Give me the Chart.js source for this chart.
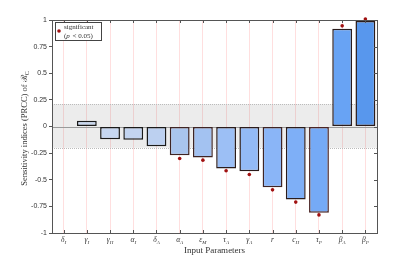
<!DOCTYPE html>
<html><head><meta charset="utf-8">
<script src="https://cdn.jsdelivr.net/npm/chart.js@4/dist/chart.umd.min.js"></script>
<style>html,body{margin:0;background:#fff}#wrap{width:411px;height:258px}</style>
</head><body><div id="wrap"><canvas id="prccChart" width="411" height="258"></canvas></div>
<script>
/* DATA */
const params=["δ_I","γ_I","γ_H","α_I","δ_A","α_A","ε_M","τ_A","γ_A","r","c_H","τ_P","β_A","β_P"];
const prcc=[0.005,0.055,-0.12,-0.125,-0.185,-0.27,-0.29,-0.395,-0.42,-0.57,-0.685,-0.81,0.917,0.99];
const sigMarks=[null,null,null,null,null,-0.30,-0.316,-0.416,-0.45,-0.595,-0.71,-0.83,0.945,1.01];
const yTicks=[-1,-0.75,-0.5,-0.25,0,0.25,0.5,0.75,1];
const bandRange=[-0.2,0.21];

/* STYLE */
const barFill=["#c9d7ef","#c9d7ef","#c6d6f0","#c3d4f0","#bcd0f0","#a9c5ee","#a3c2f1","#9cbff5","#93baf6","#8ab5f7","#7eaff7","#75aaf6","#68a3f4","#5897ed"];
const barEdge=["#111","#1a1a1a","#1a1a1a","#1a1a1a","#1a1a1a","#3e2424","#3e2424","#2a1c1c","#2a1c1c","#3e2424","#2a1c1c","#4a2424","#2a1c1c","#2a1c1c"];
const serif='"Liberation Serif","DejaVu Serif",serif';

/* BAND + ZERO LINE */
const band={id:"band",beforeDatasetsDraw(c){
const {ctx,chartArea:a,scales:{y}}=c;
const t=y.getPixelForValue(bandRange[1]),b=y.getPixelForValue(bandRange[0]);
ctx.save();
ctx.fillStyle="rgba(0,0,0,0.075)";
ctx.fillRect(a.left,t,a.right-a.left,b-t);
ctx.strokeStyle="#bbb";ctx.lineWidth=1;ctx.setLineDash([1,1]);
ctx.beginPath();
ctx.moveTo(a.left,Math.round(t)+.5);ctx.lineTo(a.right,Math.round(t)+.5);
ctx.moveTo(a.left,Math.round(b)+.5);ctx.lineTo(a.right,Math.round(b)+.5);
ctx.stroke();
ctx.setLineDash([]);
const z=Math.round(y.getPixelForValue(0))+.5;
ctx.strokeStyle="#9a9a9a";
ctx.beginPath();ctx.moveTo(a.left,z);ctx.lineTo(a.right,z);ctx.stroke();
ctx.restore();
}};

/* FRAME, LABELS, LEGEND */
const decor={id:"decor",afterDraw(c){
const {ctx,chartArea:a,scales:{x,y}}=c;
ctx.save();
ctx.strokeStyle="#555";ctx.lineWidth=1;
ctx.strokeRect(Math.round(a.left)+.5,Math.round(a.top)+.5,Math.round(a.right-a.left),Math.round(a.bottom-a.top));
ctx.beginPath();
params.forEach((p,i)=>{
const px=Math.round(x.getPixelForTick(i))+.5;
ctx.moveTo(px,a.top);ctx.lineTo(px,a.top+3);
ctx.moveTo(px,a.bottom);ctx.lineTo(px,a.bottom-3);
});
yTicks.forEach(v=>{
const py=Math.round(y.getPixelForValue(v))+.5;
ctx.moveTo(a.right,py);ctx.lineTo(a.right-3,py);
});
ctx.stroke();

/* x tick labels with subscripts */
ctx.fillStyle="#333";ctx.textBaseline="alphabetic";
params.forEach((p,i)=>{
const [base,sub]=p.split("_");
ctx.font="italic 7.5px "+serif;
const wb=ctx.measureText(base).width;
ctx.font="italic 5px "+serif;
const ws=sub?ctx.measureText(sub).width:0;
let px=x.getPixelForTick(i)-(wb+ws)/2;
ctx.font="italic 7.5px "+serif;
ctx.fillText(base,px,242);
if(sub){ctx.font="italic 5px "+serif;ctx.fillText(sub,px+wb,244);}
});

/* x title */
ctx.font="9px "+serif;ctx.textAlign="center";ctx.fillStyle="#333";
ctx.fillText("Input Parameters",(a.left+a.right)/2,253);

/* y title */
ctx.save();
ctx.translate(27,(a.top+a.bottom)/2+2);
ctx.rotate(-Math.PI/2);
ctx.font="8.5px "+serif;
const main="Sensitivity indices (PRCC) of ℛ";
const wm=ctx.measureText(main).width;
ctx.font="6px "+serif;
const wc=ctx.measureText("C").width;
ctx.textAlign="left";
ctx.font="8.5px "+serif;
ctx.fillText(main,-(wm+wc)/2,0);
ctx.font="6px "+serif;
ctx.fillText("C",-(wm+wc)/2+wm,2);
ctx.restore();

/* legend */
ctx.textAlign="left";
ctx.fillStyle="#fff";ctx.fillRect(55.5,22.5,46,18);
ctx.strokeStyle="#444";ctx.strokeRect(55.5,22.5,46,18);
ctx.fillStyle="#a01010";
ctx.beginPath();ctx.arc(59,31,1.8,0,Math.PI*2);ctx.fill();
ctx.fillStyle="#333";
ctx.font="7px "+serif;
ctx.fillText("significant",64,29);
ctx.fillText("(",64,37.5);
let lx=64+ctx.measureText("(").width;
ctx.font="italic 7px "+serif;ctx.fillText("p",lx,37.5);
lx+=ctx.measureText("p ").width+1;
ctx.font="7px "+serif;ctx.fillText("< 0.05)",lx,37.5);
ctx.restore();
}};

new Chart(document.getElementById("prccChart"),{
type:"bar",
data:{
labels:params,
datasets:[
{type:"line",data:sigMarks,showLine:false,pointRadius:1.8,pointHoverRadius:1.8,pointBackgroundColor:"#a01010",pointBorderColor:"#a01010",borderWidth:0,clip:false,order:0},
{data:prcc,backgroundColor:barFill,borderColor:barEdge,borderWidth:1.5,borderSkipped:false,barPercentage:0.9,categoryPercentage:0.95,order:1}
]
},
options:{
responsive:false,animation:false,
layout:{padding:{left:0,right:34,top:20,bottom:0}},
plugins:{legend:{display:false},tooltip:{enabled:false}},
scales:{
x:{
offset:true,
grid:{offset:false,color:"rgba(255,110,110,0.22)",drawTicks:false},
border:{display:false},
ticks:{display:false},
afterFit(s){s.height=25;}
},
y:{
min:-1,max:1,
afterBuildTicks(s){s.ticks=yTicks.map(v=>({value:v}));},
ticks:{color:"#333",font:{size:7,family:"Liberation Sans, Arial, sans-serif"},padding:2,callback:v=>String(v)},
grid:{drawOnChartArea:false,drawTicks:true,tickLength:3,color:"#555"},
border:{display:false},
afterFit(s){s.width=52;}
}
}
},
plugins:[band,decor]
});
</script>
</body></html>
